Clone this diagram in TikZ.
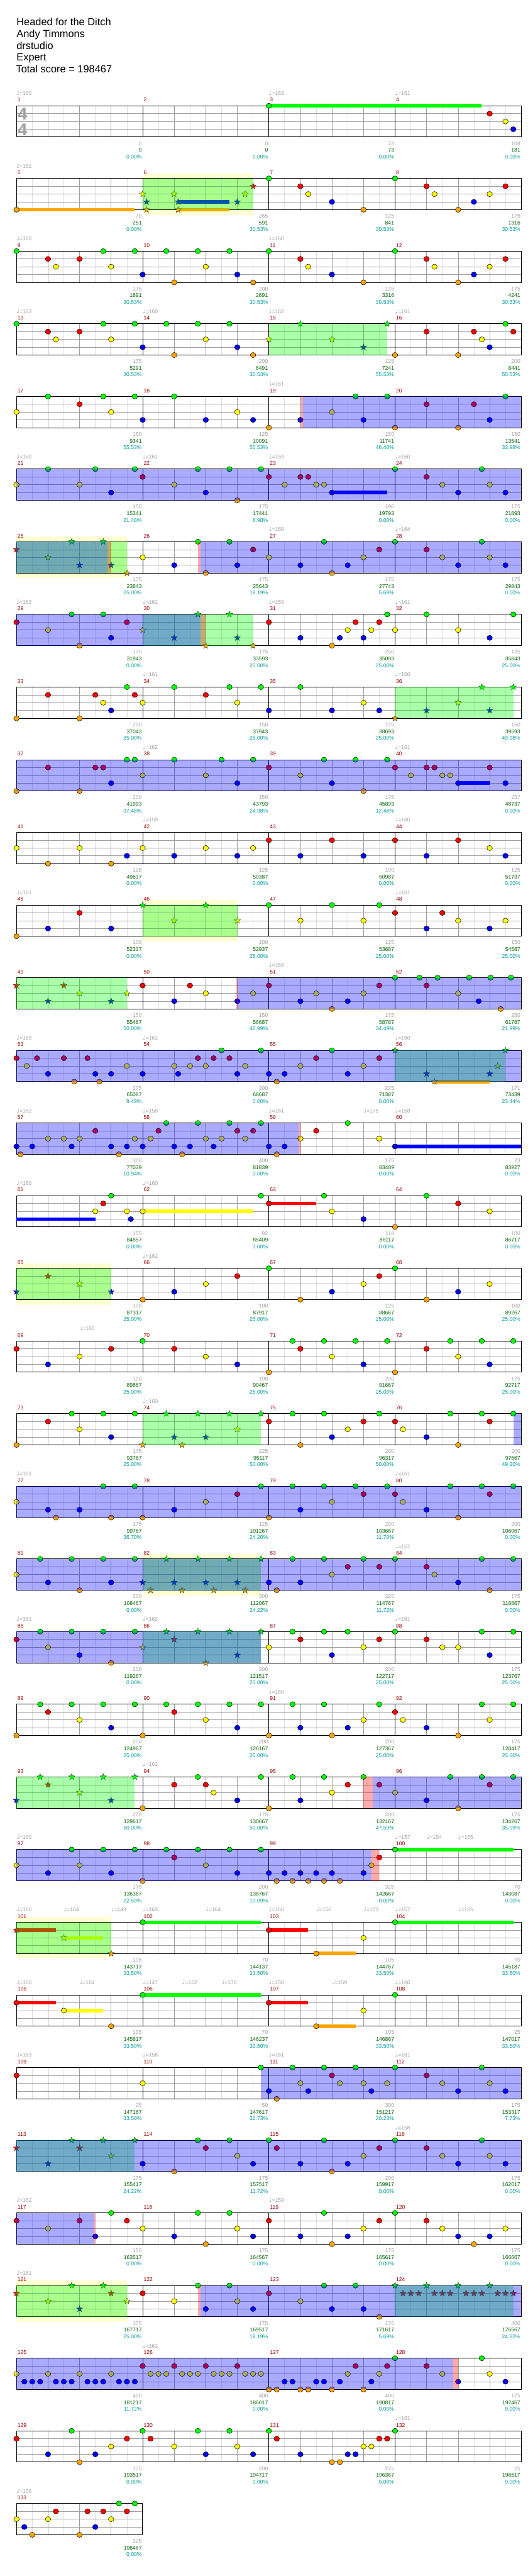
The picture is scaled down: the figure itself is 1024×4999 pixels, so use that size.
\documentclass[tikz,border=0pt]{standalone}
\usepackage{fontspec}
\setmainfont{Liberation Sans}
\newfontfamily\djv{DejaVu Sans}
\definecolor{ncg}{HTML}{00FF00}
\definecolor{ncr}{HTML}{FF0000}
\definecolor{ncy}{HTML}{FFFF00}
\definecolor{ncb}{HTML}{0000FF}
\definecolor{nco}{HTML}{FFA500}
\definecolor{gridl}{HTML}{E0E0E0}
\definecolor{gridq}{HTML}{A0A0A0}
\definecolor{ylwc}{HTML}{FFFFD2}
\definecolor{greyc}{HTML}{A0A0A0}
\definecolor{mnumc}{HTML}{9B0000}
\definecolor{scorec}{HTML}{006400}
\definecolor{pctc}{HTML}{009A9A}
\colorlet{ovcG}{green}
\colorlet{ovcB}{blue}
\colorlet{ovcP}{red}
\tikzset{
 gl/.style={draw=gridl, line width=0.8pt},
 gq/.style={draw=gridq, line width=0.8pt},
 gm/.style={draw=black, line width=0.8pt},
 frm/.style={draw=black, line width=1.2pt},
 lab/.style={inner sep=0pt, font=\fontsize{10.5}{12}\selectfont},
 tempo/.style={lab, anchor=base west, text=greyc},
 mnum/.style={lab, anchor=base west, text=mnumc},
 lgrey/.style={lab, anchor=base east, text=greyc},
 lgreen/.style={lab, anchor=base east, text=scorec},
 lcyan/.style={lab, anchor=base east, text=pctc},
 ttl/.style={inner sep=0pt, anchor=base west, font=\fontsize{20}{22}\selectfont}
}
\newcommand\mystar[3]{\begin{scope}[shift={(#1,#2)}]\filldraw[fill=#3,draw=black!85,line width=0.45pt] (90:6.5pt) -- (126:2.7pt) -- (162:6.5pt) -- (198:2.7pt) -- (234:6.5pt) -- (270:2.7pt) -- (306:6.5pt) -- (342:2.7pt) -- (18:6.5pt) -- (54:2.7pt) -- cycle;\end{scope}}
\newcommand\defnote[3]{%
 \expandafter\def\csname dr#1\endcsname##1{\filldraw[fill=#3,draw=black,line width=0.6pt] (##1,#2) circle[x radius=5.3pt,y radius=5pt];}%
 \expandafter\def\csname drs#1\endcsname##1{\mystar{##1}{#2}{#3}}%
 \expandafter\def\csname ln#1\endcsname{#2}%
 \expandafter\def\csname cl#1\endcsname{#3}}
\defnote{g}{0}{ncg}
\defnote{r}{1}{ncr}
\defnote{y}{2}{ncy}
\defnote{b}{3}{ncb}
\defnote{o}{4}{nco}
% #1 row, #2 first measure, #3 measures, #4 tempos, #5 yellow rects, #6 overlays, #7 sustains, #8 notes, #9 labels
\newcommand\DoRow[9]{%
\pgfmathsetmacro\T{205.3+141*(#1-1)}%
\pgfmathtruncatemacro\nE{8*#3}%
\pgfmathtruncatemacro\nEm{8*#3-1}%
\pgfmathtruncatemacro\nm{#3-1}%
\begin{scope}[shift={(32pt,-\T pt)},x=30.625pt,y=-15.17pt]
 \foreach \xa/\xb in {#5} {\fill[ylwc] (\xa,-0.66) rectangle (\xb,4.66);}
 \foreach \i in {1,3,...,\nEm} {\draw[gl] (\i,0) -- (\i,4);}
 \foreach \i in {2,4,...,\nEm} {\draw[gq] (\i,0) -- (\i,4);}
 \foreach \k in {1,2,3} {\draw[gq] (0,\k) -- (\nE,\k);}
 \ifnum#3>1 \foreach \j in {1,...,\nm} {\draw[gm] (8*\j,0) -- (8*\j,4);}\fi
 \draw[frm] (0,0) rectangle (\nE,4);
 \foreach \xa/\xb/\xc in {#7} {\edef\ly{\csname ln\xc\endcsname}\edef\scol{\csname cl\xc\endcsname}\fill[fill=\scol] (\xa,\ly-0.23) rectangle (\xb,\ly+0.23);}
 \foreach \xa/\xc in {#8} {\csname dr\xc\endcsname{\xa}}
 \foreach \xa/\xb/\xc in {#6} {\fill[fill=ovc\xc, fill opacity=0.333] (\xa,0) rectangle (\xb,4);}
 \foreach \j in {0,...,\nm} {\pgfmathtruncatemacro\mn{#2+\j}\node[mnum] (m\mn) at (8*\j+0.06,-0.5) {\mn};}
 \foreach \xa/\xb [count=\k] in {#4} {\node[tempo] (t#1-\k) at (\xa,-1.34) {{\djv\fontsize{12}{12}\selectfont ♩}=\xb};}
 \foreach \xa/\xb/\xc [count=\j from 0] in {#9} {\pgfmathtruncatemacro\mn{#2+\j}%
   \node[lgrey] (a\mn) at (8*\j+7.95,5.06) {\xa};
   \node[lgreen] (b\mn) at (8*\j+7.95,5.93) {\xb};
   \node[lcyan] (c\mn) at (8*\j+7.95,6.77) {\xc};}
\end{scope}}
\begin{document}
\begin{tikzpicture}[x=1pt,y=1pt]
\fill[white] (0,0) rectangle (1024,-4999);
\useasboundingbox (0,0) rectangle (1024,-4999);
\node[ttl] (title) at (32,-49.3) {Headed for the Ditch};
\node[ttl] (artist) at (32,-72.3) {Andy Timmons};
\node[ttl] (charter) at (32,-95.3) {drstudio};
\node[ttl] (diff) at (32,-118.3) {Expert};
\node[ttl] (total) at (31,-141.3) {Total score = 198467};
\begin{scope}[shift={(32pt,-205.3pt)},x=30.625pt,y=-15.17pt]
\node[inner sep=0pt,text=greyc,font=\fontsize{33}{33}\bfseries] (ts1) at (0.39,1.05) {4};
\node[inner sep=0pt,text=greyc,font=\fontsize{33}{33}\bfseries] (ts2) at (0.39,3.05) {4};
\end{scope}
\DoRow{1}{1}{4}{0/160,16/163,24/161}{0/0}{0/0/G}{16/29.5/g}{16/g,30/r,31/y,31.5/b}{0/0/0.00\%,0/0/0.00\%,73/73/0.00\%,108/181/0.00\%}
\DoRow{2}{5}{4}{0/161}{8/15}{8/15/G}{0/7.5/o,10.25/13.5/b,10.25/13.5/o}{0/o,8/sy,8.25/sb,8.25/so,10/sy,10.25/sb,10.25/so,14/sb,14.5/sy,15/sr,16/g,18/r,18.5/y,20/b,22/o,24/g,26/r,26.5/y,28/o,29/b,30/y,31/r}{70/251/0.00\%,265/591/30.53\%,125/841/30.53\%,175/1316/30.53\%}
\DoRow{3}{9}{4}{0/160,16/160}{0/0}{0/0/G}{0/0/g}{0/g,2/r,2.5/y,4/r,5.5/g,6/y,7.5/g,8/b,9.5/g,10/o,11.5/g,12/y,13.5/g,14/b,15/o,16/g,18/r,18.5/y,20/b,22/o,24/g,26/r,26.5/y,28/o,29/b,30/y,31/r}{175/1891/30.53\%,200/2691/30.53\%,125/3316/30.53\%,175/4241/30.53\%}
\DoRow{4}{13}{4}{0/163,8/160,16/162,24/161}{0/0}{16/23.5/G}{0/0/g}{0/g,2/r,2.5/y,4/r,5.5/g,6/y,7.5/g,8/b,9.5/g,10/o,11.5/g,12/y,13.5/g,14/b,15/o,16/sy,18/sg,20/sy,22/sb,23.5/sg,24/o,26/r,28/o,29/r,29.5/y,30/b,31/g,31.5/r}{175/5291/30.53\%,200/6491/30.53\%,125/7241/55.53\%,200/8441/55.53\%}
\DoRow{5}{17}{4}{16/161}{0/0}{18/18.17/P,18.17/32/B}{0/0/g}{0/y,2/g,4/r,5.5/g,6/y,7.5/g,8/b,10/g,12/b,14/y,15/b,16/o,18/b,20/y,21.5/g,22/b,23.5/g,24/o,26/r,28/o,29/r,30/b,31/g}{150/9341/55.53\%,125/10091/55.53\%,150/11741/46.48\%,150/13541/33.98\%}
\DoRow{6}{21}{4}{0/160,8/161,16/159,24/160}{0/0}{0/32/B}{20/23.5/b}{0/y,2/g,4/y,5/g,6/b,7.5/g,8/r,10/y,11.5/g,12/b,13.5/g,14/o,15.5/g,16/r,17/y,18/r,18.5/r,19/y,19.5/y,20/b,24/g,26/r,27/y,28/b,29.5/g,30/y,31/b}{150/15341/21.48\%,175/17441/8.98\%,196/19793/0.00\%,175/21893/0.00\%}
\DoRow{7}{25}{4}{16/160,24/164}{0/7}{0/7/G,0/5.75/B,5.75/6/P,11.5/11.65/P,11.65/32/B}{0/0/g}{0/sr,2/sy,3.5/sg,4/sb,5.5/sg,6/sb,7/so,8/y,10/b,11.5/g,12/o,13.5/g,14/b,15/r,16/y,18/b,19.5/g,20/o,21/b,22/y,23/r,24/g,26/r,27/y,28/b,29.5/g,30/y,31/b}{175/23843/25.00\%,175/25643/18.19\%,175/27743/5.69\%,175/29843/0.00\%}
\DoRow{8}{29}{4}{0/162,8/161,16/159,24/161}{0/0}{8/15/G,0/11.65/B,11.65/12/P}{0/0/g}{0/r,2/y,3.5/g,4/o,5.5/g,6/b,7/r,8/sy,10/sb,11.5/sg,12/so,13.5/sg,14/sb,15/so,16/r,18/b,20/o,20.5/b,21/y,21.5/r,22/b,22.5/y,23/r,23.5/g,24/y,26/g,28/y,30/b,31.5/g}{175/31943/0.00\%,175/33593/25.00\%,250/35093/25.00\%,125/35843/25.00\%}
\DoRow{9}{33}{4}{8/161,24/160}{0/0}{24/31.5/G}{0/0/g}{0/o,2/r,4/o,5/r,5.5/y,6/b,7/g,7.5/r,8/y,10/g,12/r,13.5/g,14/y,15.5/g,16/b,18/g,20/b,22/y,23/b,24/so,26/sb,28/sy,29.5/sg,30/sb,31.5/sg}{200/37043/25.00\%,150/37943/25.00\%,125/38693/25.00\%,150/39593/49.98\%}
\DoRow{10}{37}{4}{8/162,24/161}{0/0}{0/32/B}{28/30/b}{0/o,2/r,4/o,5/r,5.5/r,6/b,7/g,7.5/g,8/y,10/g,12/y,13/g,14/b,15/g,16/r,18/y,19.5/g,20/b,21.5/g,22/o,23.5/g,24/r,25/y,26/r,26.5/r,27/y,27.5/y,28/b,30/r,31/b}{200/41993/37.48\%,150/43793/24.98\%,175/45893/12.48\%,237/48737/0.00\%}
\DoRow{11}{41}{4}{8/159,24/160}{0/0}{0/0/G}{0/0/g}{0/y,2/o,4/y,6/o,7/b,8/y,10/b,12/y,14/b,15/y,16/r,18/b,20/r,22/b,24/r,26/b,28/r,30/y,31/b}{125/49637/0.00\%,125/50387/0.00\%,100/50987/0.00\%,125/51737/0.00\%}
\DoRow{12}{45}{4}{0/161,24/161}{8/14}{8/14/G}{0/0/g}{0/o,2/b,4/r,6/b,8/sg,10/sy,12/sg,14/sy,16/g,18/y,20/g,22/y,23/g,24/r,26/b,27/r,28/y,30/b,31/y}{100/52337/0.00\%,100/52937/25.00\%,125/53687/25.00\%,150/54587/25.00\%}
\DoRow{13}{49}{4}{16/159}{0/0}{0/7/G,13.93/14/P,14/32/B}{0/0/g}{0/sr,2/sb,3/sr,4/sy,6/sb,7/sy,8/r,10/b,11/r,12/y,14/b,15/y,16/r,18/b,19/y,20/o,21/b,22/y,23/r,24/g,25.55/g,26/r,26.7/g,28/y,28.7/g,29.3/b,30.06/g,30.7/o,31.35/g}{150/55487/50.00\%,150/56687/46.99\%,175/58787/34.49\%,250/61787/21.99\%}
\DoRow{14}{53}{4}{0/159,8/161,24/160}{0/0}{24/31/G,0/32/B}{26.5/30/o}{0/r,0.65/y,1.3/r,2/b,3/r,3.66/o,4.5/r,5/b,5.25/o,6/b,7/y,8/b,10/y,10.25/b,11/y,11.5/r,12/y,12.5/r,13/g,13.5/r,14/b,14.5/y,15.5/g,16/b,16.5/o,17/b,18/y,19/r,20/g,21/b,22/y,23/r,24/sg,26/sb,26.5/so,30/sb,30.5/sy,31/sg}{275/65087/9.49\%,300/68687/0.00\%,225/71387/0.00\%,171/73439/23.44\%}
\DoRow{15}{57}{4}{0/162,8/158,16/161,22/175,24/158}{0/0}{0/17.9/B,17.9/18/P}{24/32/b}{0/b,0.25/o,1/b,2/y,3/y,3.5/b,4/y,5/r,6/b,6.5/o,7/b,7.5/y,8/b,8.5/y,9/r,9.5/g,10/b,10.5/o,11/b,11.5/g,12/y,12.5/b,13/y,13.5/g,14/r,14.5/y,15/r,15.5/g,16/b,16.5/o,17/b,18/y,19/r,21/g,23/y,24/b}{300/77039/10.94\%,400/81839/0.00\%,175/83489/0.00\%,73/83927/0.00\%}
\DoRow{16}{61}{4}{0/160,8/160}{0/0}{0/0/G}{0/5/b,8/15/y,16/19/r}{5/y,5.5/r,6/g,7/y,7.25/b,8/y,15.5/g,16/r,19.5/g,20/y,22/b,24/o,26/g,28/r,30/y}{155/84857/0.00\%,92/85409/0.00\%,118/86117/0.00\%,100/86717/0.00\%}
\DoRow{17}{65}{4}{8/161}{0/6}{0/6/G}{0/0/g}{0/sb,2/sr,4/sy,6/sb,8/o,10/b,12/y,14/r,16/g,18/o,20/b,22/y,23/r,24/g,26/o,28/b,30/y}{100/87317/25.00\%,100/87917/25.00\%,125/88667/25.00\%,100/89267/25.00\%}
\DoRow{18}{69}{4}{4/160}{0/0}{0/0/G}{0/0/g}{0/r,2/b,4/y,6/r,8/g,10/r,12/y,14/b,16/o,17.5/g,18/r,19.5/g,20/y,21.5/g,22/b,23.5/g,24/o,26/r,27.5/g,28/y,29.5/g,30/b,31.5/g}{100/89867/25.00\%,100/90467/25.00\%,200/91667/25.00\%,175/92717/25.00\%}
\DoRow{19}{73}{4}{8/160}{0/0}{8/15.5/G,31.5/32/B}{0/0/g}{0/o,2/r,3.5/g,4/y,5.5/g,6/b,7.5/g,8/so,9.5/sg,10/sb,10.5/so,11.5/sg,12/sb,13.5/sg,14/sy,15.5/sg,16/r,17.5/g,18/o,19.5/g,20/b,21/y,22/r,23/g,24/r,24.5/y,26/b,27.5/g,28/o,29.5/g,30/r,31.5/g}{175/93767/25.00\%,225/95117/50.00\%,200/96317/50.00\%,200/97667/49.20\%}
\DoRow{20}{77}{4}{0/161,24/161}{0/0}{0/32/B}{0/0/g}{0/y,2/b,2.5/o,4/b,5.5/g,6/o,7.5/g,8/o,10/b,12/y,14/r,15.5/g,16/o,17.5/g,18/b,19.5/g,20/y,21.5/g,22/r,23.5/g,24/r,24.5/y,26/b,27.5/g,28/o,29.5/g,30/r,31.5/g}{175/99767/36.70\%,125/101267/24.20\%,200/103667/11.70\%,200/106067/0.00\%}
\DoRow{21}{81}{4}{24/157}{8/15.5}{8/15.5/G,0/32/B}{0/0/g}{0/y,1.5/g,2/b,3.5/g,4/o,5.5/g,6/b,7.5/g,8/sb,8.5/so,9.5/sg,10/sb,10.5/so,11.5/sg,12/sb,12.5/so,13.5/sg,14/sb,14.5/so,15.5/sg,16/b,16.5/o,17.5/g,18/b,19.5/g,20/y,21/r,22/g,23/r,24/g,26/r,26.5/y,28/b,29.5/g,30/o,31.5/g}{200/108467/0.00\%,300/112067/24.22\%,225/114767/11.72\%,175/116867/0.00\%}
\DoRow{22}{85}{4}{0/161,8/162,24/161}{0/0}{8/15.5/G,0/15.5/B}{0/0/g}{0/r,1.5/g,2/y,3.5/g,4/b,5.5/g,6/o,7.5/g,8/sy,9.5/sg,10/sr,11.5/sg,12/so,13.5/sg,14/sb,15.5/sg,16/y,17.5/g,18/r,19.5/g,20/b,21/g,22/y,23/r,24/g,26/r,27/y,28/y,29.5/g,30/b,31.5/g}{200/119267/0.00\%,200/121517/25.00\%,200/122717/25.00\%,175/123767/25.00\%}
\DoRow{23}{89}{4}{16/160}{0/0}{0/0/G}{0/0/g}{0/o,1.5/g,2/r,3.5/g,4/y,5.5/g,6/b,7.5/g,8/o,9.5/g,10/r,11.5/g,12/y,13.5/g,14/b,15.5/g,16/o,17.5/g,18/b,19.5/g,20/o,21/b,22/y,23/g,24/r,24.5/y,26/b,28/o,29.5/g,30/y,31.5/g}{200/124967/25.00\%,200/126167/25.00\%,200/127367/25.00\%,175/128417/25.00\%}
\DoRow{24}{93}{4}{8/161}{0/0}{0/7.5/G,22/22.6/P,22.6/32/B}{0/0/g}{0/sb,1.5/sg,2/sr,3.5/sg,4/sy,5.5/sg,6/sb,7.5/sg,8/o,10/r,11.5/g,12/r,12.5/y,14/b,15.5/g,16/o,17.5/g,18/b,19.5/g,20/y,21/r,22/g,23/r,24/y,26/b,27.5/g,28/o,29.5/g,30/r,31.5/g}{200/129617/50.00\%,175/130667/50.00\%,200/132167/47.59\%,175/134267/35.09\%}
\DoRow{25}{97}{4}{0/160,24/157,26/154,28/165}{0/0}{0/22.5/B,22.5/23/P}{24/31.5/g}{0/y,2/b,3.5/g,4/y,5.5/g,6/b,7.5/g,8/o,9.5/g,10/r,11.5/g,12/y,13.5/g,14/b,15.5/g,16/b,16.5/o,17/b,17.5/o,18/b,18.5/o,19/b,19.5/o,20/b,20.5/o,22/b,22.5/y,23/r,24/g}{175/136367/22.59\%,200/138767/10.09\%,325/142667/0.00\%,70/143087/0.00\%}
\DoRow{26}{101}{4}{0/160,3/164,6/149,8/163,12/164,16/160,19/156,22/171,24/157,28/165}{0/6}{0/6/G}{0/2.5/r,3/5.5/y,8/15.5/g,16/18.5/r,19/21.5/o,24/31.5/g}{0/sr,3/sy,6/so,8/g,16/r,19/o,22/y,24/g}{105/143717/33.50\%,70/144137/33.50\%,105/144767/33.50\%,70/145187/33.50\%}
\DoRow{27}{105}{4}{0/160,4/164,8/147,10.5/152,13/176,16/158,20/159,24/166}{0/0}{0/0/G}{0/2.5/r,3/5.5/y,8/15.5/g,16/18.5/r,19/21.5/o}{0/r,3/y,6/o,8/g,16/r,19/o,22/y,24/g}{105/145817/33.50\%,70/146237/33.50\%,105/146867/33.50\%,25/147017/33.50\%}
\DoRow{28}{109}{4}{0/163,8/158,16/161,24/161}{0/0}{15.5/32/B}{0/0/g}{0/r,8/y,15.5/g,16/b,16.5/o,17.5/g,18/y,18.5/b,19.5/g,20/r,20.5/y,21.5/g,22/y,22.5/b,23.5/y,24/g,26/r,27/y,28/b,29.5/g,30/y,31/b}{25/147167/33.50\%,50/147617/32.73\%,300/151217/20.23\%,175/153317/7.73\%}
\DoRow{29}{113}{4}{24/158}{0/0}{0/7.5/G,0/32/B}{0/0/g}{0/sr,2/sb,3.5/sg,4/sr,5.5/sg,6/sy,7.5/sg,8/b,10/o,11.5/g,12/r,13.5/g,14/y,15/b,16/g,16.5/r,18/b,19.5/g,20/o,21/b,22/y,23/r,24/g,26/r,27/y,28/b,29.5/g,30/y,31/b}{175/155417/24.22\%,175/157517/11.72\%,200/159917/0.00\%,175/162017/0.00\%}
\DoRow{30}{117}{4}{0/162,16/159}{0/0}{0/4.93/B,4.93/5/P}{0/0/g}{0/r,2/y,4/r,5/b,6/g,7/r,8/y,10/b,11.5/g,12/o,13.5/g,14/y,15/b,16/r,18/b,19.5/g,20/o,21/b,22/y,23/r,24/g,26/r,27/y,28/b,29/o,30/b,31/y}{150/163517/0.00\%,175/164567/0.00\%,175/165617/0.00\%,175/166667/0.00\%}
\DoRow{31}{121}{4}{0/161}{0/7}{0/7/G,24/31.5/G,11.5/11.65/P,11.65/32/B}{0/0/g}{0/sr,2/sy,3.5/sg,4/sb,5.5/sg,6/sr,7/sy,8/r,10/y,11.5/g,12/b,13.5/g,14/y,15/b,16/r,18/y,19.5/g,20/b,21.5/g,22/b,23/o,24/sg,24.5/sr,25/sr,25.5/sr,26/sg,26.5/sr,27/sr,27.5/sr,28/sg,28.5/sr,29/sr,29.5/sr,30/sg,30.5/sr,31/sr,31.5/sr}{175/167717/25.00\%,175/169517/18.19\%,175/171617/5.69\%,400/176567/24.22\%}
\DoRow{32}{125}{4}{8/161}{0/0}{0/27.7/B,27.7/28/P}{0/0/g}{0/y,0.5/b,1/b,1.5/b,2/y,2.5/b,3/b,3.5/b,4/y,4.5/b,5/b,5.5/b,6/y,6.5/b,7/b,7.5/b,8/r,8.5/y,9/y,9.5/y,10/r,10.5/y,11/y,11.5/y,12/r,12.5/y,13/y,13.5/y,14/r,14.5/y,15/y,15.5/y,16/o,16.5/o,17/b,17.5/b,18/o,18.5/o,19/b,19.5/b,20/o,20.5/b,21/y,21.5/r,22/o,22.5/b,23/y,23.5/r,24/g,26/r,27/y,28/b,29.5/g,30/y,31/b}{400/181217/11.72\%,400/186017/0.00\%,400/190817/0.00\%,175/192467/0.00\%}
\DoRow{33}{129}{4}{24/161}{0/0}{0/0/G}{0/0/g}{0/r,2/b,3.5/g,4/o,5/b,6/y,7/r,8/g,8.5/r,10/y,11.5/g,12/b,13.5/g,14/y,15/b,16/g,16.5/r,18/b,20/o,20.5/o,21/b,21.5/b,22/y,22.5/y,23/r,23.5/r,24/g}{175/193517/0.00\%,200/194717/0.00\%,275/196367/0.00\%,25/196517/0.00\%}
\DoRow{34}{133}{1}{0/156}{0/0}{0/0/G}{0/0/g}{0/y,0.5/b,1/o,2/y,2.5/r,4/o,4.5/r,5/b,5.5/r,6/y,6.5/g,7/r,7.5/g}{325/198467/0.00\%}
\end{tikzpicture}
\end{document}
